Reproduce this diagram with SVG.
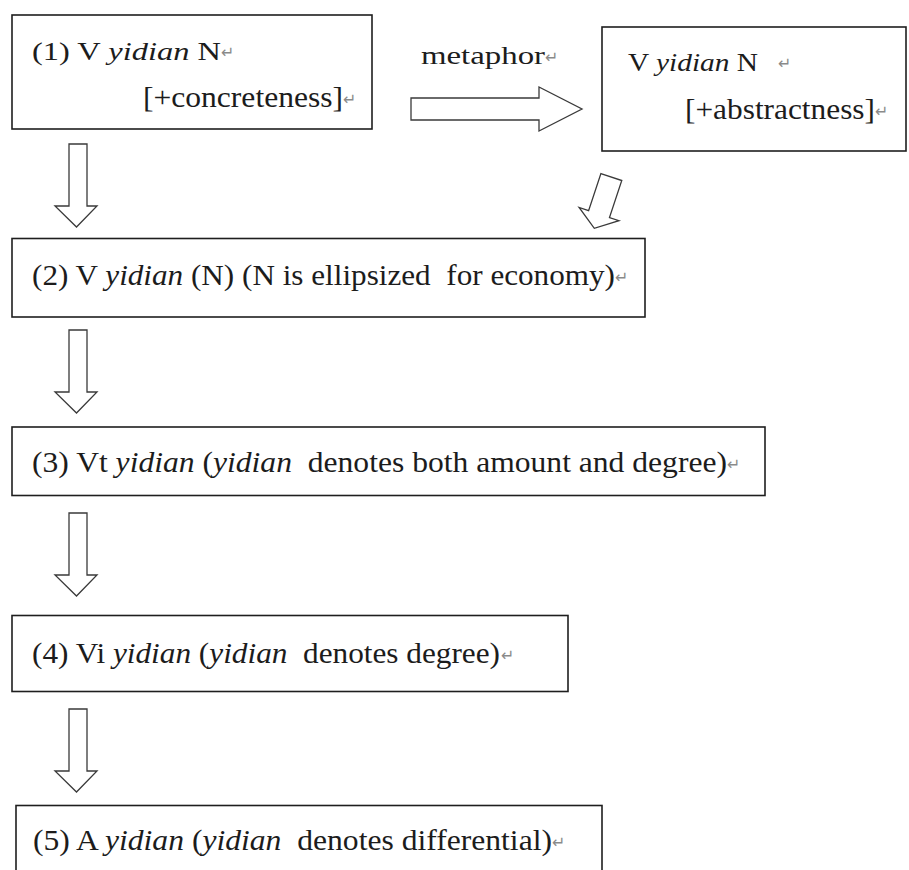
<svg xmlns="http://www.w3.org/2000/svg" width="909" height="870" viewBox="0 0 909 870">
  <style>
    .box { fill: #ffffff; stroke: #1e1e1e; stroke-width: 1.6; }
    .arrow { fill: #ffffff; stroke: #3a3a3a; stroke-width: 1.3; stroke-linejoin: miter; }
    .t { font-family: "Liberation Serif", "DejaVu Serif", serif; fill: #1c1c1c; }
    .it { font-style: italic; }
    .pm { font-family: "DejaVu Sans", sans-serif; font-size: 16px; fill: #8a8a8a; }
  </style>
  <defs>
    <polygon id="down" points="-7.5,0 10.5,0 10.5,62 20.5,62 0,83 -21.5,62 -7.5,62"/>
  </defs>
  <rect x="0" y="0" width="909" height="870" fill="#ffffff"/>

  <g id="connectors">
    <g id="metaphor-edge">
      <polygon class="arrow" points="411,98 539,98 539,87 582,109 539,131 539,120 411,120"/>
      <text class="t" font-family="Liberation Serif, serif" x="421" y="64" font-size="25" textLength="124" lengthAdjust="spacingAndGlyphs">metaphor</text>
      <text class="pm" x="545" y="63">↵</text>
    </g>
    <polygon class="arrow" transform="translate(594.3,228.3) rotate(18.4)" points="-11,-54 11,-54 11,-15 21,-15 0,0 -21,-15 -11,-15"/>
    <use href="#down" class="arrow" x="76.5" y="144"/>
    <use href="#down" class="arrow" x="76.5" y="330"/>
    <use href="#down" class="arrow" x="76.5" y="513"/>
    <use href="#down" class="arrow" x="76.5" y="709"/>
  </g>

  <g id="node1">
    <rect class="box" x="12" y="15" width="360" height="114"/>
    <text class="t" font-family="Liberation Serif, serif" x="32" y="60" font-size="25" textLength="189" lengthAdjust="spacingAndGlyphs">(1) V <tspan class="it">yidian</tspan> N</text>
    <text class="pm" x="221" y="58">↵</text>
    <text class="t" font-family="Liberation Serif, serif" x="143" y="107" font-size="30" textLength="200" lengthAdjust="spacingAndGlyphs">[+concreteness]</text>
    <text class="pm" x="343" y="105">↵</text>
  </g>

  <g id="node1b">
    <rect class="box" x="602" y="27" width="304" height="124"/>
    <text class="t" font-family="Liberation Serif, serif" x="628" y="71" font-size="25" textLength="130" lengthAdjust="spacingAndGlyphs">V <tspan class="it">yidian</tspan> N</text>
    <text class="pm" x="778" y="69">↵</text>
    <text class="t" font-family="Liberation Serif, serif" x="685" y="119" font-size="30" textLength="190" lengthAdjust="spacingAndGlyphs">[+abstractness]</text>
    <text class="pm" x="875" y="117">↵</text>
  </g>

  <g id="node2">
    <rect class="box" x="12" y="238.5" width="633" height="78.5"/>
    <text class="t" font-family="Liberation Serif, serif" x="32" y="285" font-size="29" textLength="583" lengthAdjust="spacingAndGlyphs" xml:space="preserve">(2) V <tspan class="it">yidian</tspan> (N) (N is ellipsized  for economy)</text>
    <text class="pm" x="615" y="283">↵</text>
  </g>

  <g id="node3">
    <rect class="box" x="12" y="427" width="753" height="68.5"/>
    <text class="t" font-family="Liberation Serif, serif" x="32" y="472" font-size="29" textLength="695" lengthAdjust="spacingAndGlyphs" xml:space="preserve">(3) Vt <tspan class="it">yidian</tspan> (<tspan class="it">yidian</tspan>  denotes both amount and degree)</text>
    <text class="pm" x="727" y="470">↵</text>
  </g>

  <g id="node4">
    <rect class="box" x="12" y="615.5" width="556" height="76"/>
    <text class="t" font-family="Liberation Serif, serif" x="32" y="663" font-size="29" textLength="468" lengthAdjust="spacingAndGlyphs" xml:space="preserve">(4) Vi <tspan class="it">yidian</tspan> (<tspan class="it">yidian</tspan>  denotes degree)</text>
    <text class="pm" x="501" y="661">↵</text>
  </g>

  <g id="node5">
    <rect class="box" x="16" y="805.5" width="586" height="72"/>
    <text class="t" font-family="Liberation Serif, serif" x="33" y="850" font-size="29" textLength="519" lengthAdjust="spacingAndGlyphs" xml:space="preserve">(5) A <tspan class="it">yidian</tspan> (<tspan class="it">yidian</tspan>  denotes differential)</text>
    <text class="pm" x="552" y="848">↵</text>
  </g>
</svg>
